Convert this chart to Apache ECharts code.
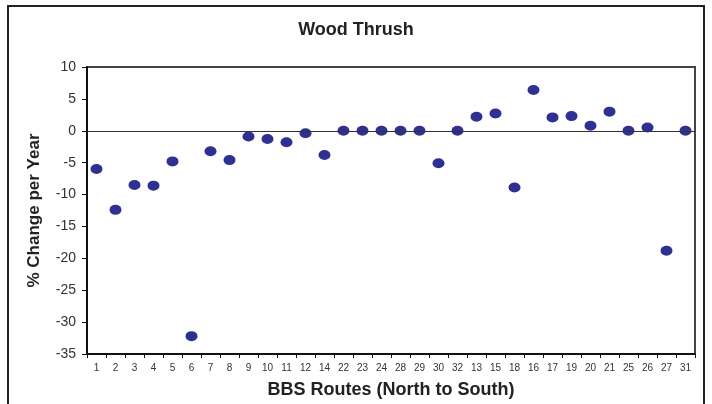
<!DOCTYPE html>
<html>
<head>
<meta charset="utf-8">
<script src="https://cdn.jsdelivr.net/npm/echarts@6/dist/echarts.min.js"></script>
<style>
  html, body { margin: 0; padding: 0; background: #fff; }
  #chart { width: 712px; height: 404px; }
</style>
</head>
<body>
<div id="chart"></div>
<script>
// BBS routes, ordered north to south
const routes = ['1', '2', '3', '4', '5', '6', '7', '8', '9', '10', '11', '12',
  '14', '22', '23', '24', '28', '29', '30', '32', '13', '15', '18', '16',
  '17', '19', '20', '21', '25', '26', '27', '31']

// % change per year for each route
const change = [-6.0, -12.4, -8.5, -8.6, -4.8, -32.2, -3.2, -4.6, -0.9, -1.3, -1.8, -0.4,
  -3.8, 0, 0, 0, 0, 0, -5.1, 0, 2.2, 2.7, -8.9, 6.4,
  2.1, 2.3, 0.8, 3.0, 0, 0.5, -18.8, 0]

const yTicks = { min: -35, max: 10, interval: 5 }

const chart = echarts.init(document.getElementById('chart'))

const option = {
  backgroundColor: '#fff',
  animation: false,
  textStyle: { fontFamily: 'Liberation Sans, Arial, sans-serif' },
  title: {
    text: 'Wood Thrush',
    left: 'center',
    top: 16,
    textStyle: { fontSize: 18, fontWeight: 'bold', color: '#222' }
  },
  graphic: [
    {
      type: 'rect',
      shape: { x: 8, y: 6, width: 696, height: 420 },
      style: { fill: 'none', stroke: '#222', lineWidth: 2 },
      silent: true
    }
  ],
  grid: {
    left: 87,
    right: 17,
    top: 67,
    bottom: 50,
    show: true,
    borderColor: '#444',
    borderWidth: 2
  },
  xAxis: {
    type: 'category',
    data: routes,
    name: 'BBS Routes (North to South)',
    nameLocation: 'middle',
    nameGap: 27,
    nameTextStyle: { fontSize: 18, fontWeight: 'bold', color: '#222' },
    axisLine: { onZero: false, lineStyle: { color: '#111', width: 2 } },
    axisTick: { show: true, interval: 0, length: 4, lineStyle: { color: '#111' } },
    axisLabel: { interval: 0, fontSize: 10, color: '#333', margin: 9 },
    splitLine: { show: false }
  },
  yAxis: {
    type: 'value',
    min: yTicks.min,
    max: yTicks.max,
    interval: yTicks.interval,
    name: '% Change per Year',
    nameLocation: 'middle',
    nameGap: 44,
    nameTextStyle: { fontSize: 17, fontWeight: 'bold', color: '#222' },
    axisLine: { show: true, lineStyle: { color: '#111', width: 2 } },
    axisTick: { show: true, length: 5, lineStyle: { color: '#111' } },
    axisLabel: { fontSize: 14, color: '#333', margin: 11 },
    splitLine: { show: false }
  },
  series: [
    {
      type: 'scatter',
      data: change,
      symbol: 'circle',
      symbolSize: [12, 10],
      itemStyle: { color: '#2e3192', opacity: 1 },
      markLine: {
        silent: true,
        symbol: 'none',
        label: { show: false },
        lineStyle: { color: '#333', width: 1, type: 'solid' },
        data: [{ yAxis: 0 }]
      },
      z: 3
    }
  ]
}

chart.setOption(option)
</script>
</body>
</html>
